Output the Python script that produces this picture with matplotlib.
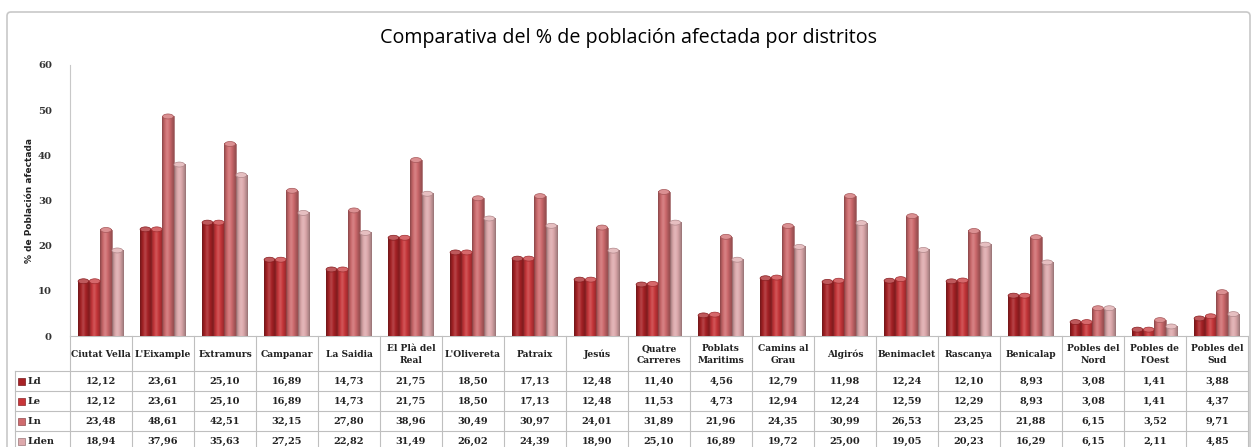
import numpy as np
import matplotlib
matplotlib.use('Agg')
import matplotlib.pyplot as plt
from matplotlib.patches import Ellipse, Rectangle, FancyBboxPatch
from matplotlib.colors import to_rgb

# Distritos y porcentajes de población afectada por indicador
distritos = ["Ciutat Vella", "L'Eixample", "Extramurs", "Campanar", "La Saidia",
             "El Plà del\nReal", "L'Olivereta", "Patraix", "Jesús", "Quatre\nCarreres",
             "Poblats\nMaritims", "Camins al\nGrau", "Algirós", "Benimaclet", "Rascanya",
             "Benicalap", "Pobles del\nNord", "Pobles de\nl'Oest", "Pobles del\nSud"]
ld = [12.12, 23.61, 25.10, 16.89, 14.73, 21.75, 18.50, 17.13, 12.48, 11.40,
      4.56, 12.79, 11.98, 12.24, 12.10, 8.93, 3.08, 1.41, 3.88]
le = [12.12, 23.61, 25.10, 16.89, 14.73, 21.75, 18.50, 17.13, 12.48, 11.53,
      4.73, 12.94, 12.24, 12.59, 12.29, 8.93, 3.08, 1.41, 4.37]
ln = [23.48, 48.61, 42.51, 32.15, 27.80, 38.96, 30.49, 30.97, 24.01, 31.89,
      21.96, 24.35, 30.99, 26.53, 23.25, 21.88, 6.15, 3.52, 9.71]
lden = [18.94, 37.96, 35.63, 27.25, 22.82, 31.49, 26.02, 24.39, 18.90, 25.10,
        16.89, 19.72, 25.00, 19.05, 20.23, 16.29, 6.15, 2.11, 4.85]
series = ["Ld", "Le", "Ln", "Lden"]
valores = [ld, le, ln, lden]
colores = ["#A82226", "#C8363A", "#CF6B6E", "#DDA9AC"]
yticks = [0, 10, 20, 30, 40, 50, 60]

W, H = 1257, 447
fig = plt.figure(figsize=(W / 100, H / 100), dpi=100)

# capa de fondo en píxeles para marco y tabla
bg = fig.add_axes([0, 0, 1, 1])
bg.set_xlim(0, W)
bg.set_ylim(H, 0)
bg.axis('off')
bg.add_patch(FancyBboxPatch((7, 12), 1243, 460, boxstyle="round,pad=0,rounding_size=4",
                            fill=False, ec="#C8C8C8", lw=1.2))

x_left, x_right, y_top, y_zero = 70, 1248, 65, 336
ax = fig.add_axes([x_left / W, 1 - y_zero / H, (x_right - x_left) / W, (y_zero - y_top) / H])
ax.patch.set_alpha(0)

n = len(distritos)
bw = 0.182
offs = (np.arange(4) - 1.5) * bw + 0.49


def tono(c, f):
    c = np.array(to_rgb(c))
    if f < 1:
        return c * f
    return c + (1 - c) * (f - 1)


perfil = np.array([0.72, 0.86, 0.97, 1.10, 1.16, 1.08, 0.98, 0.90, 0.82, 0.74])
for s, (vals, col) in enumerate(zip(valores, colores)):
    grad = np.array([[tono(col, f) for f in perfil]])
    for i, v in enumerate(vals):
        x0 = i + offs[s] - bw / 2
        ax.imshow(np.clip(grad, 0, 1), extent=(x0, x0 + bw, 0, v), aspect='auto',
                  interpolation='bicubic', zorder=2)
        ax.add_patch(Rectangle((x0, 0), bw, v, fill=False, ec=tono(col, 0.7), lw=0.5, zorder=3))
        ax.add_patch(Ellipse((x0 + bw / 2, v), bw * 0.95, 1.1, fc=tono(col, 1.25),
                             ec=tono(col, 0.8), lw=0.5, zorder=4))

ax.set_xlim(0, n)
ax.set_ylim(0, 60)
ax.set_yticks(yticks)
ax.set_yticklabels([str(t) for t in yticks], family='DejaVu Serif', fontweight='bold',
                   fontsize=7.2, color='#333333')
ax.set_xticks([])
ax.tick_params(axis='y', length=0, pad=13)
for sp in ['top', 'right', 'bottom']:
    ax.spines[sp].set_visible(False)
ax.spines['left'].set_color('#C8C8C8')
ax.set_ylabel("% de Población afectada", family='DejaVu Sans', fontweight='bold',
              fontsize=6.5, labelpad=3, color='#222222')

fig.text(0.5, 1 - 38 / H, "Comparativa del % de población afectada por distritos",
         ha='center', va='center', fontsize=14.2, family='Open Sans', color='#000000')

# tabla de datos bajo el gráfico
cw = (x_right - x_left) / n
gris = '#BFBFBF'
bg.plot([x_left, x_right], [y_zero, y_zero], color=gris, lw=0.8)
filas = [371, 391, 411, 431, 451]
for y in filas:
    bg.plot([15, x_right], [y, y], color=gris, lw=0.8)
for i in range(n + 1):
    bg.plot([x_left + i * cw] * 2, [y_zero, H], color=gris, lw=0.8)
bg.plot([15, 15], [371, H], color=gris, lw=0.8)

fuente = dict(family='DejaVu Serif', fontweight='bold', fontsize=6.6, color='#222222')
numeros = dict(fuente, fontsize=7)
for i, d in enumerate(distritos):
    bg.text(x_left + (i + 0.5) * cw, (y_zero + 371) / 2 + 1, d, ha='center', va='center',
            linespacing=1.3, **fuente)
for s, (nombre, vals, col) in enumerate(zip(series, valores, colores)):
    yc = (filas[s] + filas[s + 1]) / 2
    bg.add_patch(Rectangle((18, yc - 3.5), 7, 7, fc=col, ec=tono(col, 0.7), lw=0.5))
    bg.text(28, yc, nombre, ha='left', va='center', **numeros)
    for i, v in enumerate(vals):
        bg.text(x_left + (i + 0.5) * cw, yc, f"{v:.2f}".replace('.', ','),
                ha='center', va='center', **numeros)

fig.savefig("out.png", dpi=100)
